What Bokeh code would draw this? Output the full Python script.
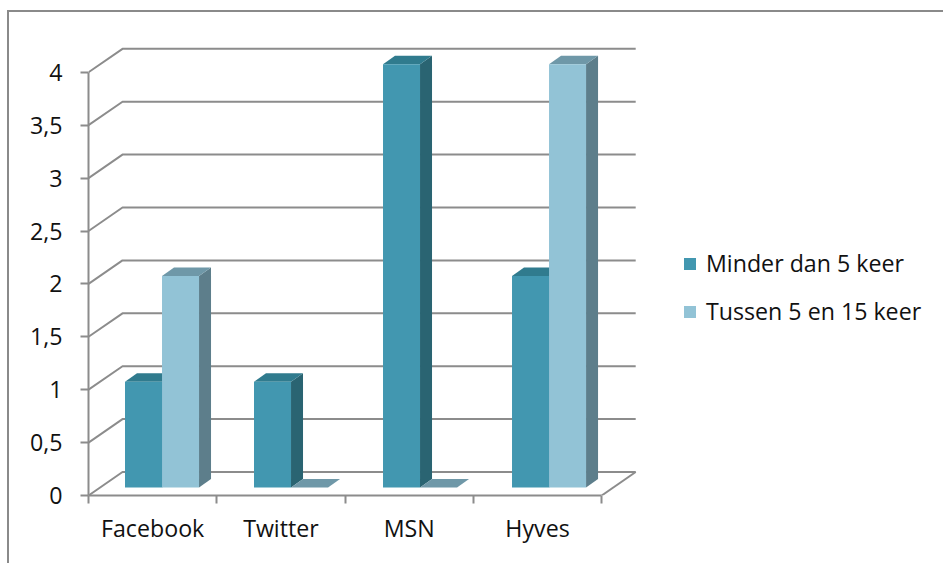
from bokeh.plotting import figure
from bokeh.embed import file_html
from bokeh.resources import INLINE
from bokeh.models import Range1d, FixedTicker, Legend, LegendItem

categories = ["Facebook", "Twitter", "MSN", "Hyves"]
minder = [1, 1, 4, 2]
tussen = [2, 0, 0, 4]
y_ticks = [0, 0.5, 1, 1.5, 2, 2.5, 3, 3.5, 4]
y_labels = ["0", "0,5", "1", "1,5", "2", "2,5", "3", "3,5", "4"]
series_names = ["Minder dan 5 keer", "Tussen 5 en 15 keer"]

FONT = "Open Sans"
FONT_SIZE = "23.2px"
GRID = "#8c8c8c"
TEXT = "#111111"
LW = 2

# 3D geometry, in data units
WALL_DX, WALL_DY = 0.265, 0.222
BAR_DX, BAR_DY = 0.0935, 0.08
BAR_LEFT, BAR_W, BASE, BAR_PITCH = 0.2845, 0.2885, 0.0756, 1.0055
PX_PER_CAT = 128.3

M_TOP, M_LEFT = 10, 7
W, H = 943 - M_LEFT, 563 - M_TOP
B_LEFT, B_BOTTOM = 79, 70
frame_w = W - B_LEFT
frame_h = H - B_BOTTOM

p = figure(width=W, height=H, output_backend="svg", toolbar_location=None,
           x_range=Range1d(0, frame_w / PX_PER_CAT),
           y_range=Range1d(0, frame_h / 105.8),
           min_border_left=B_LEFT, min_border_bottom=B_BOTTOM,
           min_border_top=0, min_border_right=0,
           background_fill_color="white", border_fill_color="white",
           margin=(M_TOP, 0, 0, M_LEFT))
p.outline_line_color = None
p.grid.visible = False
p.styles = {"border-top": "2px solid #8a8a8a", "border-left": "2px solid #8a8a8a",
            "box-sizing": "border-box"}

# walls
n = len(categories)
for v in y_ticks:
    p.line([0, WALL_DX, n + WALL_DX], [v, v + WALL_DY, v + WALL_DY],
           line_color=GRID, line_width=LW)
p.line([n, n + WALL_DX], [0, WALL_DY], line_color=GRID, line_width=LW)

# bars
colors = [("#4297b0", "#2a6472", "#307b8e"), ("#92c3d6", "#5d7e8b", "#6f98a8")]
front_renderers = []
for s, values in enumerate([minder, tussen]):
    front, side, top = colors[s]
    lefts = [i * BAR_PITCH + BAR_LEFT + s * BAR_W for i in range(n)]
    rights = [l + BAR_W for l in lefts]
    tops = [BASE + v for v in values]
    side_xs = [[r, r + BAR_DX, r + BAR_DX, r] for r in rights]
    side_ys = [[BASE, BASE + BAR_DY, t + BAR_DY, t] for t in tops]
    top_xs = [[l, l + BAR_DX, r + BAR_DX, r] for l, r in zip(lefts, rights)]
    top_ys = [[t, t + BAR_DY, t + BAR_DY, t] for t in tops]
    p.patches(side_xs, side_ys, fill_color=side, line_color=None)
    p.patches(top_xs, top_ys, fill_color=top, line_color=None)
    r = p.quad(left=lefts, right=rights, bottom=[BASE] * n, top=tops,
               fill_color=front, line_color=None)
    front_renderers.append(r)

# axes
xa = p.xaxis[0]
xa.ticker = FixedTicker(ticks=[i + 0.5 for i in range(n)],
                        minor_ticks=list(range(n + 1)))
xa.major_label_overrides = {i + 0.5: c for i, c in enumerate(categories)}
xa.bounds = (0, n)
xa.major_tick_line_color = None
xa.major_tick_out = 0
xa.major_tick_in = 0
xa.minor_tick_line_color = GRID
xa.minor_tick_line_width = LW
xa.minor_tick_out = 8
xa.minor_tick_in = 0
xa.axis_line_color = GRID
xa.axis_line_width = LW
xa.major_label_standoff = 8
xa.major_label_text_font = FONT
xa.major_label_text_font_size = FONT_SIZE
xa.major_label_text_color = TEXT

ya = p.yaxis[0]
ya.ticker = FixedTicker(ticks=y_ticks)
ya.major_label_overrides = dict(zip(y_ticks, y_labels))
ya.bounds = (0, 4)
ya.major_tick_line_color = GRID
ya.major_tick_line_width = LW
ya.major_tick_out = 8
ya.major_tick_in = 0
ya.minor_tick_line_color = None
ya.axis_line_color = GRID
ya.axis_line_width = LW
ya.major_label_standoff = 18
ya.major_label_text_font = FONT
ya.major_label_text_font_size = FONT_SIZE
ya.major_label_text_color = TEXT

legend = Legend(items=[LegendItem(label=series_names[i], renderers=[front_renderers[i]]) for i in range(2)],
                location=(594, 168), orientation="vertical",
                background_fill_color=None, border_line_color=None,
                padding=0, margin=0, glyph_width=15, glyph_height=15,
                label_standoff=9, spacing=16,
                label_text_font=FONT, label_text_font_size=FONT_SIZE,
                label_text_color=TEXT)
p.add_layout(legend)

open("out.html", "w").write(file_html(p, INLINE))
